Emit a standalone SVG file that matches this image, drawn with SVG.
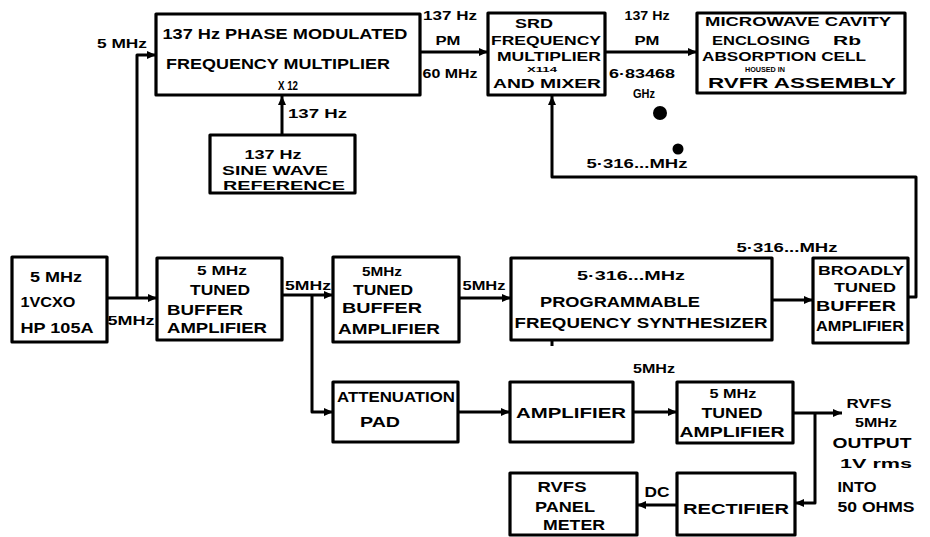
<svg xmlns="http://www.w3.org/2000/svg" width="930" height="537" viewBox="0 0 930 537">
<style>
.box{fill:#fff;stroke:#000;stroke-width:3.2;stroke-linejoin:round}
.ln{fill:none;stroke:#000;stroke-width:3;stroke-linejoin:round}
text{font-family:"Liberation Sans","Arial",sans-serif;font-weight:bold;fill:#000;font-size:15px}
.m{text-anchor:middle}
.s{font-size:13px}
.c{font-size:13px}
.xs{font-size:8px}
</style>
<defs>
<marker id="ah" markerUnits="userSpaceOnUse" markerWidth="10" markerHeight="10" refX="9" refY="5" orient="auto">
<path d="M0,1 L9,5 L0,9 z" fill="#000"/>
</marker>
</defs>
<rect width="930" height="537" fill="#fff"/>

<g id="connectors">
<path class="ln" d="M107,298 H157" marker-end="url(#ah)"/>
<path class="ln" d="M137,298 V55 H156" marker-end="url(#ah)"/>
<path class="ln" d="M282,135 V96" marker-end="url(#ah)"/>
<path class="ln" d="M420,52 H488" marker-end="url(#ah)"/>
<path class="ln" d="M605,52 H697" marker-end="url(#ah)"/>
<path class="ln" d="M908,297 H916 V177 H552 V96" marker-end="url(#ah)"/>
<path class="ln" d="M282,295 H333" marker-end="url(#ah)"/>
<path class="ln" d="M312,295 V412 H333" marker-end="url(#ah)"/>
<path class="ln" d="M459,298 H511" marker-end="url(#ah)"/>
<path class="ln" d="M772,300 H813" marker-end="url(#ah)"/>
<path class="ln" d="M552,340 V346"/>
<path class="ln" d="M458,412 H510" marker-end="url(#ah)"/>
<path class="ln" d="M633,412 H677" marker-end="url(#ah)"/>
<path class="ln" d="M793,413 H842" marker-end="url(#ah)"/>
<path class="ln" d="M815,413 V503 H795" marker-end="url(#ah)"/>
<path class="ln" d="M677,505 H637" marker-end="url(#ah)"/>
<circle cx="660" cy="113" r="7" fill="#000"/>
<circle cx="678" cy="149" r="5.5" fill="#000"/>
</g>

<g id="labels">
<text x="97" y="48" textLength="50" lengthAdjust="spacingAndGlyphs" class="s">5 MHz</text>
<text x="288" y="118" textLength="59" lengthAdjust="spacingAndGlyphs" class="s">137 Hz</text>
<text x="450" y="20" textLength="54" lengthAdjust="spacingAndGlyphs" class="s m">137 Hz</text>
<text x="448" y="45" textLength="25" lengthAdjust="spacingAndGlyphs" class="s m">PM</text>
<text x="450" y="78" textLength="55" lengthAdjust="spacingAndGlyphs" class="s m">60 MHz</text>
<text x="647" y="20" textLength="45" lengthAdjust="spacingAndGlyphs" class="s m">137 Hz</text>
<text x="647" y="45" textLength="25" lengthAdjust="spacingAndGlyphs" class="s m">PM</text>
<text x="642" y="78" textLength="66" lengthAdjust="spacingAndGlyphs" class="s m">6·83468</text>
<text x="644" y="98" textLength="22" lengthAdjust="spacingAndGlyphs" class="s m">GHz</text>
<text x="637" y="168" textLength="101" lengthAdjust="spacingAndGlyphs" class="s m">5·316...MHz</text>
<text x="131" y="325" textLength="47" lengthAdjust="spacingAndGlyphs" class="s m">5MHz</text>
<text x="308" y="290" textLength="46" lengthAdjust="spacingAndGlyphs" class="s m">5MHz</text>
<text x="484" y="290" textLength="43" lengthAdjust="spacingAndGlyphs" class="s m">5MHz</text>
<text x="787" y="252" textLength="101" lengthAdjust="spacingAndGlyphs" class="s m">5·316...MHz</text>
<text x="654" y="373" textLength="42" lengthAdjust="spacingAndGlyphs" class="s m">5MHz</text>
<text x="657" y="497" textLength="25" lengthAdjust="spacingAndGlyphs" class="m">DC</text>
<text x="869" y="408" textLength="45" lengthAdjust="spacingAndGlyphs" class="s m">RVFS</text>
<text x="876" y="427" textLength="42" lengthAdjust="spacingAndGlyphs" class="s m">5MHz</text>
<text x="872" y="448" textLength="79" lengthAdjust="spacingAndGlyphs" class="m">OUTPUT</text>
<text x="876" y="468" textLength="72" lengthAdjust="spacingAndGlyphs" class="s m">1V rms</text>
<text x="857" y="492" textLength="39" lengthAdjust="spacingAndGlyphs" class="m">INTO</text>
<text x="876" y="512" textLength="77" lengthAdjust="spacingAndGlyphs" class="m">50 OHMS</text>
</g>

<g id="pm-multiplier">
<rect class="box" x="156" y="14" width="264" height="81"/>
<text x="285" y="39" textLength="245" lengthAdjust="spacingAndGlyphs" class="m">137 Hz  PHASE MODULATED</text>
<text x="278" y="69" textLength="224" lengthAdjust="spacingAndGlyphs" class="m">FREQUENCY MULTIPLIER</text>
<text x="288" y="90" textLength="20" lengthAdjust="spacingAndGlyphs" class="s m">X 12</text>
</g>

<g id="sine-reference">
<rect class="box" x="210" y="135" width="145" height="58"/>
<text x="273" y="159" textLength="57" lengthAdjust="spacingAndGlyphs" class="c m">137 Hz</text>
<text x="275" y="175" textLength="106" lengthAdjust="spacingAndGlyphs" class="c m">SINE WAVE</text>
<text x="284" y="190" textLength="122" lengthAdjust="spacingAndGlyphs" class="c m">REFERENCE</text>
</g>

<g id="srd-mixer">
<rect class="box" x="488" y="13" width="117" height="82"/>
<text x="534" y="28" textLength="38" lengthAdjust="spacingAndGlyphs" class="c m">SRD</text>
<text x="546" y="45" textLength="110" lengthAdjust="spacingAndGlyphs" class="c m">FREQUENCY</text>
<text x="549" y="61" textLength="104" lengthAdjust="spacingAndGlyphs" class="c m">MULTIPLIER</text>
<text x="542" y="72" textLength="30" lengthAdjust="spacingAndGlyphs" class="xs m">X114</text>
<text x="547" y="88" textLength="108" lengthAdjust="spacingAndGlyphs" class="c m">AND MIXER</text>
</g>

<g id="microwave-cavity">
<rect class="box" x="697" y="13" width="208" height="80"/>
<text x="798" y="26" textLength="186" lengthAdjust="spacingAndGlyphs" class="c m">MICROWAVE CAVITY</text>
<text x="712" y="45" textLength="98" lengthAdjust="spacingAndGlyphs" class="c">ENCLOSING</text>
<text x="833" y="45" textLength="28" lengthAdjust="spacingAndGlyphs" class="c">Rb</text>
<text x="784" y="61" textLength="164" lengthAdjust="spacingAndGlyphs" class="c m">ABSORPTION CELL</text>
<text x="765" y="72" textLength="40" lengthAdjust="spacingAndGlyphs" class="xs m">HOUSED IN</text>
<text x="802" y="88" textLength="188" lengthAdjust="spacingAndGlyphs" class="m">RVFR ASSEMBLY</text>
</g>

<g id="vcxo">
<rect class="box" x="12" y="257" width="95" height="85"/>
<text x="56" y="282" textLength="52" lengthAdjust="spacingAndGlyphs" class="m">5 MHz</text>
<text x="48" y="307" textLength="55" lengthAdjust="spacingAndGlyphs" class="m">1VCXO</text>
<text x="57" y="333" textLength="73" lengthAdjust="spacingAndGlyphs" class="m">HP 105A</text>
</g>

<g id="buffer1">
<rect class="box" x="157" y="258" width="125" height="82"/>
<text x="222" y="275" textLength="50" lengthAdjust="spacingAndGlyphs" class="s m">5 MHz</text>
<text x="220" y="295" textLength="60" lengthAdjust="spacingAndGlyphs" class="m">TUNED</text>
<text x="205" y="315" textLength="76" lengthAdjust="spacingAndGlyphs" class="m">BUFFER</text>
<text x="217" y="333" textLength="100" lengthAdjust="spacingAndGlyphs" class="m">AMPLIFIER</text>
</g>

<g id="buffer2">
<rect class="box" x="333" y="257" width="126" height="85"/>
<text x="382" y="276" textLength="40" lengthAdjust="spacingAndGlyphs" class="s m">5MHz</text>
<text x="383" y="295" textLength="60" lengthAdjust="spacingAndGlyphs" class="m">TUNED</text>
<text x="382" y="313" textLength="80" lengthAdjust="spacingAndGlyphs" class="m">BUFFER</text>
<text x="389" y="334" textLength="102" lengthAdjust="spacingAndGlyphs" class="m">AMPLIFIER</text>
</g>

<g id="synthesizer">
<rect class="box" x="511" y="258" width="261" height="82"/>
<text x="631" y="280" textLength="108" lengthAdjust="spacingAndGlyphs" class="s m">5·316...MHz</text>
<text x="620" y="307" textLength="160" lengthAdjust="spacingAndGlyphs" class="m">PROGRAMMABLE</text>
<text x="641" y="328" textLength="253" lengthAdjust="spacingAndGlyphs" class="m">FREQUENCY SYNTHESIZER</text>
</g>

<g id="broadly-buffer">
<rect class="box" x="813" y="258" width="95" height="85"/>
<text x="861" y="275" textLength="86" lengthAdjust="spacingAndGlyphs" class="c m">BROADLY</text>
<text x="865" y="292" textLength="62" lengthAdjust="spacingAndGlyphs" class="c m">TUNED</text>
<text x="856" y="311" textLength="80" lengthAdjust="spacingAndGlyphs" class="m">BUFFER</text>
<text x="860" y="331" textLength="88" lengthAdjust="spacingAndGlyphs" class="m">AMPLIFIER</text>
</g>

<g id="attenuation-pad">
<rect class="box" x="333" y="382" width="125" height="60"/>
<text x="396" y="402" textLength="118" lengthAdjust="spacingAndGlyphs" class="m">ATTENUATION</text>
<text x="380" y="427" textLength="40" lengthAdjust="spacingAndGlyphs" class="m">PAD</text>
</g>

<g id="amplifier">
<rect class="box" x="510" y="382" width="123" height="60"/>
<text x="571" y="418" textLength="110" lengthAdjust="spacingAndGlyphs" class="m">AMPLIFIER</text>
</g>

<g id="tuned-amplifier">
<rect class="box" x="677" y="382" width="116" height="61"/>
<text x="733" y="398" textLength="47" lengthAdjust="spacingAndGlyphs" class="s m">5 MHz</text>
<text x="732" y="418" textLength="61" lengthAdjust="spacingAndGlyphs" class="m">TUNED</text>
<text x="732" y="437" textLength="105" lengthAdjust="spacingAndGlyphs" class="m">AMPLIFIER</text>
</g>

<g id="rectifier">
<rect class="box" x="677" y="473" width="118" height="62"/>
<text x="736" y="514" textLength="106" lengthAdjust="spacingAndGlyphs" class="m">RECTIFIER</text>
</g>

<g id="panel-meter">
<rect class="box" x="510" y="473" width="127" height="62"/>
<text x="562" y="492" textLength="49" lengthAdjust="spacingAndGlyphs" class="m">RVFS</text>
<text x="565" y="512" textLength="60" lengthAdjust="spacingAndGlyphs" class="m">PANEL</text>
<text x="574" y="530" textLength="62" lengthAdjust="spacingAndGlyphs" class="m">METER</text>
</g>
</svg>
